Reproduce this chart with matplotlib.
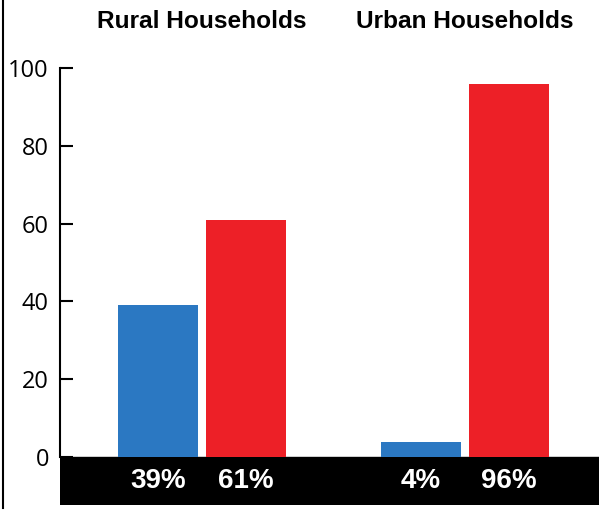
import matplotlib
matplotlib.use("Agg")
import matplotlib.pyplot as plt

groups = ["Rural Households", "Urban Households"]
series_blue = [39, 4]
series_red = [61, 96]
labels_blue = ["39%", "4%"]
labels_red = ["61%", "96%"]
yticks = [0, 20, 40, 60, 80, 100]

W, H = 599, 515
fig = plt.figure(figsize=(W/100, H/100), dpi=100)
ax = fig.add_axes([60/W, 10/H, 539/W, (505-68)/H])

blue = "#2B78C2"
red = "#ED2027"
off = 0.167
bw = 0.304
xs = [0, 1]
ax.bar([x - off for x in xs], series_blue, width=bw, color=blue, zorder=2)
ax.bar([x + off for x in xs], series_red, width=bw, color=red, zorder=2)

ymin = -12.3
ax.set_ylim(ymin, 100)
ax.set_xlim(-0.540, 1.510)
ax.axhspan(ymin, 0, color="black", zorder=1)

for x, lb, lr in zip(xs, labels_blue, labels_red):
    ax.text(x - off, ymin/2, lb, ha="center", va="center", color="white",
            fontsize=20, fontweight="bold", family=["Liberation Sans", "DejaVu Sans"])
    ax.text(x + off, ymin/2, lr, ha="center", va="center", color="white",
            fontsize=20, fontweight="bold", family=["Liberation Sans", "DejaVu Sans"])

for s in ["top", "right", "bottom"]:
    ax.spines[s].set_visible(False)
ax.spines["left"].set_bounds(0, 100)
ax.spines["left"].set_linewidth(1.5)
ax.set_yticks(yticks)
ax.set_yticklabels([str(v) for v in yticks], fontsize=17, family=["Open Sans", "DejaVu Sans"])
ax.tick_params(axis="y", direction="in", length=9, width=1.5, pad=8)
ax.set_xticks([])

for x, g in zip(xs, groups):
    xf = (60 + (x + 0.540) / 2.05 * 539) / W
    fig.text(xf, 1 - 22/H, g, ha="center", va="center", fontsize=17.6,
             fontweight="bold", family=["Liberation Sans", "DejaVu Sans"])

# left border line
fig.add_artist(plt.Line2D([2.5/W, 2.5/W], [1 - 508/H, 1], color="black", lw=1.5))

fig.savefig("out.png", dpi=100)
